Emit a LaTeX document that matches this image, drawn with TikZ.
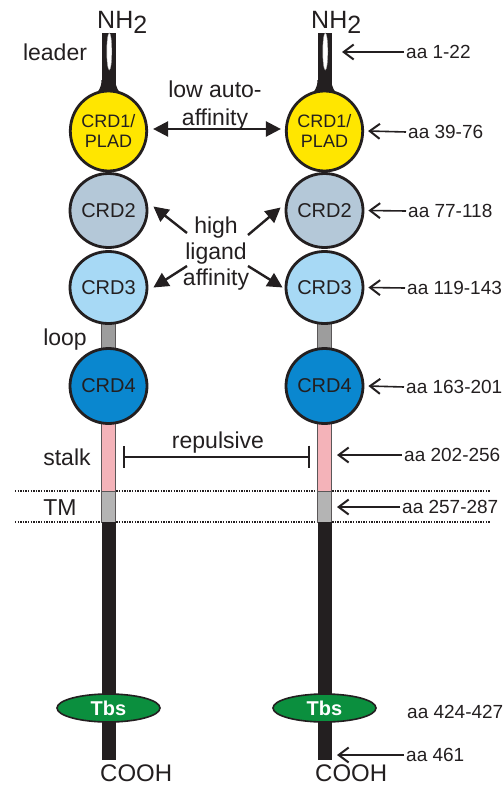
\documentclass[tikz,border=0pt]{standalone}
\usepackage{fontspec}
\setmainfont{Liberation Sans}
\usetikzlibrary{shapes.geometric,arrows.meta}
\definecolor{ink}{HTML}{231F20}
\definecolor{crdyellow}{HTML}{FFE600}
\definecolor{crdgrey}{HTML}{B4C8D8}
\definecolor{crdlight}{HTML}{A7D9F5}
\definecolor{crddark}{HTML}{0A87CF}
\definecolor{stalkpink}{HTML}{F4B3B9}
\definecolor{loopgrey}{HTML}{9D9D9D}
\definecolor{tmgrey}{HTML}{B4B4B4}
\definecolor{tbsgreen}{HTML}{0B8F3E}
\begin{document}
\begin{tikzpicture}[x=1pt,y=-1pt,
  crd/.style={ellipse,draw=ink,line width=2.8pt,inner sep=0pt,text=ink,align=center},
  stemblack/.style={rectangle,fill=ink,inner sep=0pt,minimum width=14pt},
  stempart/.style={rectangle,draw=ink!75,line width=0.9pt,inner sep=0pt,minimum width=13.5pt},
  slit/.style={ellipse,fill=white,draw=ink!40,line width=0.4pt,inner sep=0pt,minimum width=5pt,minimum height=37pt},
  tbs/.style={ellipse,fill=tbsgreen,draw=ink,line width=1.6pt,inner sep=0pt,minimum width=103pt,minimum height=28pt,text=white,font=\fontsize{20}{22}\selectfont\bfseries},
  lab/.style={text=ink,inner sep=0pt,font=\fontsize{23}{26}\selectfont},
  aalab/.style={text=ink,inner sep=2pt,anchor=west,font=\fontsize{19}{21}\selectfont},
  sidearrow/.style={draw=ink,line width=1.6pt,-{Straight Barb[length=10pt,width=15pt,line width=2pt]}},
  bigarrow/.style={draw=ink,line width=2.4pt,-{Triangle[length=15pt,width=15pt]}},
  dots/.style={draw=ink,line width=1.6pt,dash pattern=on 1.3pt off 1.3pt}
]
\useasboundingbox (0,0) rectangle (503,787);

% membrane lines
\coordinate (m1a) at (15,491); \coordinate (m1b) at (490,491);
\coordinate (m2a) at (15,522); \coordinate (m2b) at (490,522);
\draw[dots] (m1a) -- (m1b);
\draw[dots] (m2a) -- (m2b);

% ---------- chains ----------
\foreach \c/\s in {108.5/L,324.5/R}{
  \node[stemblack,minimum height=66pt] (\s top) at (\c,66) {};
  \fill[ink] (\c-7,80) .. controls (\c-7,88) and (\c-10,91) .. (\c-15,97)
        -- (\c+15,97) .. controls (\c+10,91) and (\c+7,88) .. (\c+7,80) -- cycle;
  \node[slit] (\s slit) at (\c+0.8,51.5) {};
  \node[stempart,fill=loopgrey,minimum height=30pt] (\s loop) at (\c,336) {};
  \node[stempart,fill=stalkpink,minimum height=69pt] (\s stalk) at (\c,456.5) {};
  \node[stempart,fill=tmgrey,minimum height=31pt] (\s tm) at (\c,506.5) {};
  \node[stemblack,minimum height=238pt] (\s cyto) at (\c,641) {};
  \node[crd,fill=crdyellow,minimum width=62pt,minimum height=80pt,font=\fontsize{18}{20}\selectfont] (\s1) at (\c,131) {CRD1/\\PLAD};
  \node[crd,fill=crdgrey,minimum width=64pt,minimum height=74pt,font=\fontsize{20}{22}\selectfont] (\s2) at (\c,210.5) {CRD2};
  \node[crd,fill=crdlight,minimum width=64pt,minimum height=72pt,font=\fontsize{20}{22}\selectfont] (\s3) at (\c,287.5) {CRD3};
  \node[crd,fill=crddark,minimum width=65pt,minimum height=75pt,font=\fontsize{20}{22}\selectfont] (\s4) at (\c,386) {CRD4};
  \node[tbs] (\s tbs) at (\c,708) {Tbs};
}

% termini
\node[lab,anchor=base west,font=\fontsize{25}{28}\selectfont] (Lnh) at (97,28) {NH\raisebox{-5pt}{2}};
\node[lab,anchor=base west,font=\fontsize{25}{28}\selectfont] (Rnh) at (311,28) {NH\raisebox{-5pt}{2}};
\node[lab,anchor=base west,font=\fontsize{24}{27}\selectfont] (Lcooh) at (100,781) {COOH};
\node[lab,anchor=base west,font=\fontsize{24}{27}\selectfont] (Rcooh) at (315,781) {COOH};

% left side labels
\node[lab,anchor=base] (leader) at (55,60) {leader};
\node[lab,anchor=base] (loop) at (65,345) {loop};
\node[lab,anchor=base] (stalk) at (67,465) {stalk};
\node[lab,anchor=base] (tmlab) at (60,515) {TM};

% middle labels
\node[lab,anchor=base] (auto1) at (215,97) {low auto-};
\node[lab,anchor=base] (auto2) at (215,125) {affinity};
\node[lab,anchor=base] (high1) at (216,233) {high};
\node[lab,anchor=base] (high2) at (216,259) {ligand};
\node[lab,anchor=base] (high3) at (216,285) {affinity};
\node[lab,anchor=base] (rep) at (218,448) {repulsive};

% middle connectors
\draw[bigarrow,{Triangle[length=15pt,width=15pt]}-{Triangle[length=15pt,width=15pt]}] ([xshift=5pt,yshift=2pt]L1.east) -- ([xshift=-4pt,yshift=2pt]R1.west);
\coordinate (hl1) at (187,233);
\coordinate (hr1) at (248,235);
\coordinate (hl2) at (187,266);
\coordinate (hr2) at (248,266);
\draw[bigarrow] (hl1) -- ([xshift=5pt,yshift=4pt]L2.east);
\draw[bigarrow] (hr1) -- ([xshift=-4pt,yshift=3pt]R2.west);
\draw[bigarrow] (hl2) -- ([xshift=5pt,yshift=0pt]L3.east);
\draw[bigarrow] (hr2) -- ([xshift=-2pt,yshift=0pt]R3.west);
\draw[draw=ink,line width=2pt,{Bar[width=22pt]}-{Bar[width=22pt]}] ([xshift=7.5pt]Lstalk.east) -- ([xshift=-7.5pt]Rstalk.west);

% right annotations
\node[aalab] (a1) at (404,52) {aa 1-22};
\node[aalab] (a2) at (406,132) {aa 39-76};
\node[aalab] (a3) at (406,211) {aa 77-118};
\node[aalab] (a4) at (405,288) {aa 119-143};
\node[aalab] (a5) at (404,387) {aa 163-201};
\node[aalab] (a6) at (402,455) {aa 202-256};
\node[aalab] (a7) at (400,507) {aa 257-287};
\node[aalab] (a8) at (405,712) {aa 424-427};
\node[aalab] (a9) at (404,755) {aa 461};
\coordinate (t1) at (342,52);
\coordinate (t6) at (337,455);
\coordinate (t7) at (337,507);
\coordinate (t9) at (337,755);
\draw[sidearrow] (a1.west) -- (t1);
\draw[sidearrow] (a2.west) -- ([xshift=4pt]R1.east);
\draw[sidearrow] (a3.west) -- ([xshift=4pt]R2.east);
\draw[sidearrow] (a4.west) -- ([xshift=4pt]R3.east);
\draw[sidearrow] (a5.west) -- ([xshift=4pt]R4.east);
\draw[sidearrow] (a6.west) -- (t6);
\draw[sidearrow] (a7.west) -- (t7);
\draw[sidearrow] (a9.west) -- (t9);
\end{tikzpicture}
\end{document}
